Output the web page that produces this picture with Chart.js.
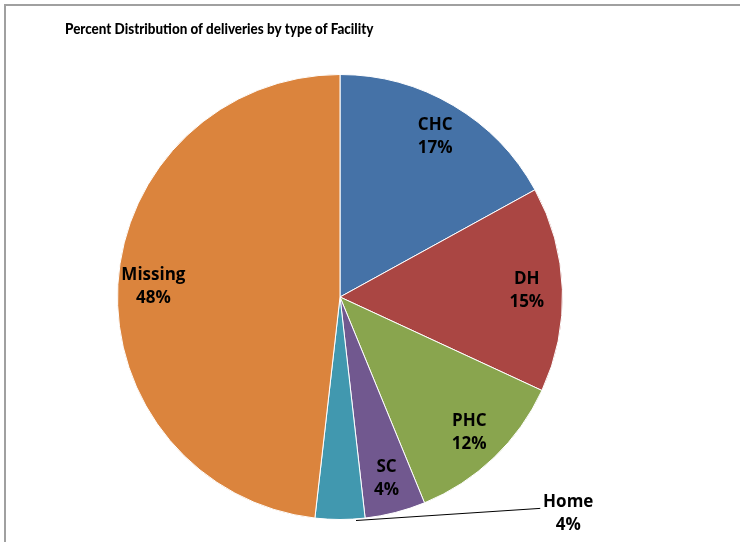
<!DOCTYPE html>
<html>
<head>
<meta charset="utf-8">
<script src="https://cdn.jsdelivr.net/npm/chart.js@4"></script>
<style>
html,body{margin:0;padding:0;background:#fff;}
#wrap{position:relative;width:740px;height:542px;}
</style>
</head>
<body>
<div id="wrap"><canvas id="c" width="740" height="542"></canvas></div>
<script>
const chartTitle = "Percent Distribution of deliveries by type of Facility";
const categories = ["CHC", "DH", "PHC", "SC", "Home", "Missing"];
const values = [17.0, 14.9, 11.9, 4.4, 3.6, 48.2];
const colors = ["#4572A7", "#AA4643", "#89A54E", "#71588F", "#4198AF", "#DB843D"];
const outsideLabels = ["Home"];

const TITLE_FONT = "900 14px Lato, sans-serif";
const LABEL_FONT = "bold 17px 'Open Sans', Lato, sans-serif";

const decor = {
  id: "decor",
  beforeDraw(chart) {
    const ctx = chart.ctx;
    ctx.save();
    ctx.fillStyle = "#fff";
    ctx.fillRect(0, 0, chart.width, chart.height);
    ctx.strokeStyle = "#a0a0a0";
    ctx.lineWidth = 2;
    ctx.beginPath();
    ctx.moveTo(5, chart.height);
    ctx.lineTo(5, 5);
    ctx.lineTo(chart.width, 5);
    ctx.stroke();
    ctx.fillStyle = "#000";
    ctx.font = TITLE_FONT;
    ctx.textBaseline = "middle";
    ctx.textAlign = "left";
    ctx.translate(65, 29);
    ctx.scale(0.96, 1.08);
    ctx.fillText(chartTitle, 0, 0);
    ctx.restore();
  },
  afterDatasetsDraw(chart) {
    const ctx = chart.ctx;
    const meta = chart.getDatasetMeta(0);
    const total = values.reduce((a, b) => a + b, 0);
    ctx.save();
    ctx.fillStyle = "#000";
    ctx.font = LABEL_FONT;
    ctx.textAlign = "center";
    ctx.textBaseline = "middle";
    meta.data.forEach((arc, i) => {
      const p = arc.getProps(["x", "y", "startAngle", "endAngle", "outerRadius"], true);
      const mid = (p.startAngle + p.endAngle) / 2;
      const r = p.outerRadius;
      const pct = Math.round(values[i] / total * 100) + "%";
      if (outsideLabels.includes(categories[i])) {
        const sx = p.x + Math.cos(mid) * r;
        const sy = p.y + Math.sin(mid) * r;
        const ex = p.x + r * 0.90;
        const ey = p.y + r * 0.95;
        ctx.strokeStyle = "#000";
        ctx.lineWidth = 1;
        ctx.beginPath();
        ctx.moveTo(sx + 16, sy + 1);
        ctx.lineTo(ex, ey);
        ctx.stroke();
        ctx.fillText(categories[i], ex + 28, ey - 6);
        ctx.fillText(pct, ex + 28, ey + 17);
      } else {
        const lr = r * 0.84;
        const lx = p.x + Math.cos(mid) * lr;
        const ly = p.y + Math.sin(mid) * lr;
        ctx.fillText(categories[i], lx, ly - 11);
        ctx.fillText(pct, lx, ly + 12);
      }
    });
    ctx.restore();
  }
};

new Chart(document.getElementById("c"), {
  type: "pie",
  data: {
    labels: categories,
    datasets: [{
      data: values,
      backgroundColor: colors,
      borderColor: "#ffffff",
      borderWidth: 1
    }]
  },
  options: {
    responsive: false,
    animation: false,
    layout: { padding: { left: 117, right: 177, top: 74, bottom: 22 } },
    plugins: {
      legend: { display: false },
      title: { display: false },
      tooltip: { enabled: false }
    }
  },
  plugins: [decor]
});
</script>
</body>
</html>
